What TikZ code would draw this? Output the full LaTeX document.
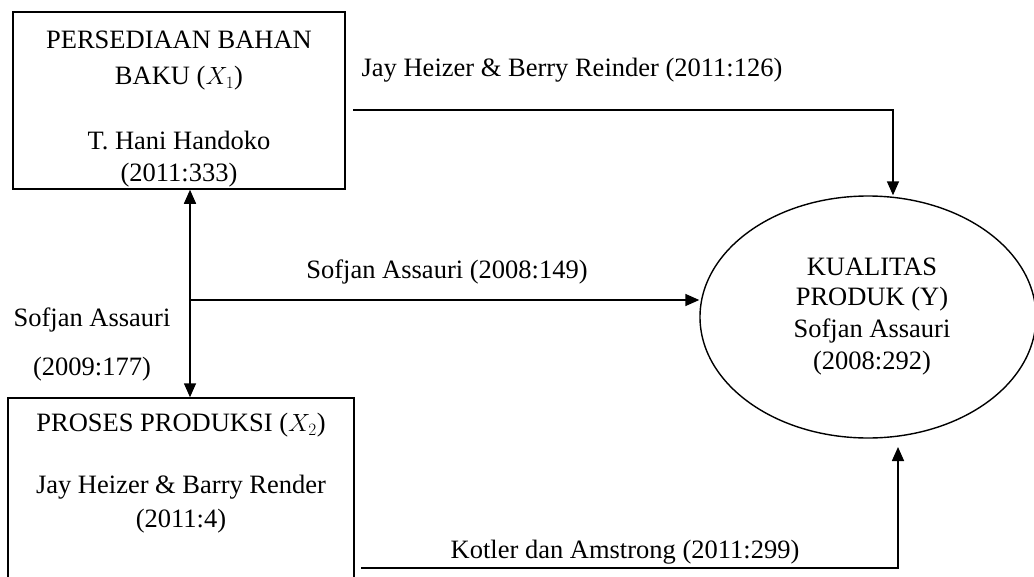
\documentclass[tikz,border=0pt]{standalone}
\usepackage{fontspec}
\setmainfont{Liberation Serif}
\usetikzlibrary{arrows.meta,calc,shapes.geometric}
\begin{document}
\begin{tikzpicture}[x=1pt,y=-1pt,
  every node/.style={font=\fontsize{26.5}{32}\selectfont},
  box/.style={draw,line width=1.5pt,inner sep=0pt},
  lbl/.style={inner sep=0pt,align=center},
  conn/.style={line width=1.6pt,-{Triangle[length=14pt,width=12pt]}},
  biconn/.style={line width=1.6pt,{Triangle[length=14pt,width=12pt]}-{Triangle[length=14pt,width=12pt]}}]
\useasboundingbox (0,0) rectangle (1034,576);
\clip (0,0) rectangle (1034,576);
% boxes
\node[box,minimum width=332pt,minimum height=177pt] (b1) at (179,100.5) {};
\node[box,minimum width=346pt,minimum height=204pt] (b2) at (181,500) {};
\node[draw,ellipse,line width=1.4pt,inner sep=0pt,minimum width=336pt,minimum height=242pt] (e) at (868,317) {};
% box texts
\node[lbl] (t1a) at (179,40) {PERSEDIAAN BAHAN};
\node[lbl] (t1b) at (179,78) {BAKU ($X_1$)};
\node[lbl] (t1c) at (179,140) {T. Hani Handoko};
\node[lbl,anchor=north] (t1d) at (179,163) {(2011:333)};
\node[lbl] (t2a) at (181,425) {PROSES PRODUKSI ($X_2$)};
\node[lbl] (t2b) at (181,487) {Jay Heizer \& Barry Render};
\node[lbl] (t2c) at (181,521) {(2011:4)};
\node[lbl] (ea) at (872,267) {KUALITAS};
\node[lbl] (eb) at (872,299) {PRODUK (Y)};
\node[lbl] (ec) at (872,331) {Sofjan Assauri};
\node[lbl] (ed) at (872,363) {(2008:292)};
% connector labels
\node[lbl] (l1) at (572,70) {Jay Heizer \& Berry Reinder (2011:126)};
\node[lbl] (l2) at (447,272) {Sofjan Assauri (2008:149)};
\node[lbl] (l3) at (92,320) {Sofjan Assauri};
\node[lbl] (l4) at (92,369) {(2009:177)};
\node[lbl] (l5) at (625,552) {Kotler dan Amstrong (2011:299)};
% connector coordinates
\coordinate (v) at (190,0);
\coordinate (m) at (190,300);
\coordinate (p1) at (353,110);
\coordinate (p2) at (893,110);
\coordinate (q1) at (361,568);
\coordinate (q2) at (898,568);
\coordinate (q3) at (898,447);
% connectors
\draw[biconn] (b1.south -| v) -- (b2.north -| v);
\draw[conn] (m) -- (m -| e.west);
\draw[conn] (p1) -- (p2) -- (p2 |- e.north);
\draw[conn] (q1) -- (q2) -- (q3);
\end{tikzpicture}
\end{document}
